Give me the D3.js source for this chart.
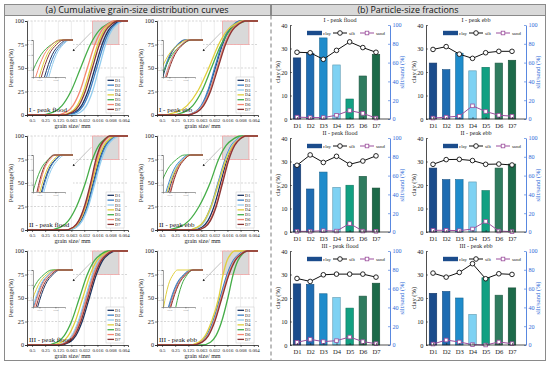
<!doctype html>
<html lang="en">
<head>
<meta charset="utf-8">
<script src="https://d3js.org/d3.v7.min.js"></script>
<style>
    html, body { margin: 0; padding: 0; background: #fff; }
    svg { display: block; }
</style>
</head>
<body>
<svg id="svg" width="550" height="366"></svg>
<script>
    var stations = ["D1", "D2", "D3", "D4", "D5", "D6", "D7"];
    var curveColors = ["#1c3461", "#3d7fc4", "#93cdee", "#e0cf3c", "#45ad48", "#f5856f", "#8a3636"];
    var barColors = ["#1b4c8c", "#1e6cb2", "#1f8ccb", "#7fd2f3", "#12a082", "#2f7c5f", "#1c6a49"];
    var percentLevels = [0, 3, 10, 25, 50, 75, 90, 97, 100];
    var sizeTicks = [0.5, 0.25, 0.125, 0.063, 0.032, 0.016, 0.008, 0.004];
    var sizeTickLabels = ["0.5", "0.25", "0.125", "0.063", "0.032", "0.016", "0.008", "0.004"];
    var sampleNames = ["I - peak flood", "I - peak ebb", "II - peak flood", "II - peak ebb", "III - peak flood", "III - peak ebb"];

    // grain size (phi) reached at each cumulative percentage level, one row per station D1..D7
    var phiIflood = [
        [3.54, 4.28, 4.76, 5.24, 5.78, 6.32, 6.80, 7.28, 7.70],
        [3.67, 4.41, 4.89, 5.37, 5.91, 6.45, 6.93, 7.41, 7.83],
        [3.99, 4.68, 5.13, 5.59, 6.09, 6.59, 7.05, 7.50, 7.89],
        [3.21, 3.95, 4.43, 4.91, 5.45, 5.99, 6.47, 6.95, 7.37],
        [1.61, 2.62, 3.28, 3.95, 4.69, 5.43, 6.10, 6.76, 7.33],
        [2.82, 3.60, 4.11, 4.63, 5.20, 5.77, 6.29, 6.80, 7.24],
        [3.34, 4.08, 4.56, 5.04, 5.58, 6.12, 6.60, 7.08, 7.50]
    ];
    var phiIebb = [
        [2.81, 3.55, 4.03, 4.51, 5.05, 5.59, 6.07, 6.55, 6.97],
        [2.76, 3.50, 3.98, 4.46, 5.00, 5.54, 6.02, 6.50, 6.92],
        [2.77, 3.55, 4.06, 4.58, 5.15, 5.72, 6.24, 6.75, 7.19],
        [0.90, 2.10, 2.90, 3.70, 4.55, 5.30, 5.95, 6.60, 7.10],
        [1.67, 2.68, 3.34, 4.01, 4.75, 5.49, 6.16, 6.82, 7.39],
        [2.80, 3.58, 4.09, 4.61, 5.18, 5.75, 6.27, 6.78, 7.22],
        [2.87, 3.65, 4.16, 4.68, 5.25, 5.82, 6.34, 6.85, 7.29]
    ];
    var phiIIflood = [
        [3.63, 4.30, 4.73, 5.17, 5.65, 6.13, 6.57, 7.00, 7.38],
        [3.68, 4.35, 4.78, 5.22, 5.70, 6.18, 6.62, 7.05, 7.43],
        [3.68, 4.37, 4.82, 5.28, 5.78, 6.28, 6.74, 7.19, 7.58],
        [3.53, 4.20, 4.63, 5.07, 5.55, 6.03, 6.47, 6.90, 7.28],
        [2.25, 3.17, 3.77, 4.38, 5.05, 5.59, 6.07, 6.55, 6.97],
        [3.48, 4.15, 4.58, 5.02, 5.50, 5.92, 6.29, 6.67, 6.99],
        [3.49, 4.13, 4.55, 4.98, 5.45, 5.85, 6.22, 6.58, 6.89]
    ];
    var phiIIebb = [
        [3.35, 4.04, 4.49, 4.95, 5.45, 5.95, 6.41, 6.86, 7.25],
        [3.01, 3.75, 4.23, 4.71, 5.25, 5.79, 6.27, 6.75, 7.17],
        [3.06, 3.80, 4.28, 4.76, 5.30, 5.84, 6.32, 6.80, 7.22],
        [2.92, 3.70, 4.21, 4.73, 5.30, 5.87, 6.39, 6.90, 7.34],
        [1.15, 2.30, 3.05, 3.81, 4.65, 5.29, 5.87, 6.44, 6.93],
        [3.53, 4.20, 4.63, 5.07, 5.55, 6.03, 6.47, 6.90, 7.28],
        [3.58, 4.25, 4.68, 5.12, 5.60, 6.08, 6.52, 6.95, 7.33]
    ];
    var phiIIIflood = [
        [3.11, 3.85, 4.33, 4.81, 5.35, 5.89, 6.37, 6.85, 7.27],
        [2.86, 3.60, 4.08, 4.56, 5.10, 5.64, 6.12, 6.60, 7.02],
        [2.81, 3.55, 4.03, 4.51, 5.05, 5.59, 6.07, 6.55, 6.97],
        [2.47, 3.25, 3.76, 4.28, 4.85, 5.42, 5.94, 6.45, 6.89],
        [2.08, 2.91, 3.45, 4.00, 4.60, 5.20, 5.75, 6.29, 6.76],
        [2.91, 3.65, 4.13, 4.61, 5.15, 5.69, 6.17, 6.65, 7.07],
        [3.01, 3.75, 4.23, 4.71, 5.25, 5.79, 6.27, 6.75, 7.17]
    ];
    var phiIIIebb = [
        [3.21, 3.95, 4.43, 4.91, 5.45, 5.99, 6.47, 6.95, 7.37],
        [3.16, 3.90, 4.38, 4.86, 5.40, 5.94, 6.42, 6.90, 7.32],
        [3.24, 3.98, 4.46, 4.94, 5.48, 6.02, 6.50, 6.98, 7.40],
        [3.06, 3.80, 4.28, 4.76, 5.30, 5.64, 5.94, 6.24, 6.50],
        [4.04, 4.68, 5.10, 5.53, 6.00, 6.40, 6.77, 7.13, 7.44],
        [3.26, 4.00, 4.48, 4.96, 5.50, 6.04, 6.52, 7.00, 7.42],
        [3.31, 4.05, 4.53, 5.01, 5.55, 6.09, 6.57, 7.05, 7.47]
    ];

    // particle-size fractions (%)
    var clayIflood = [26, 28, 34.5, 23, 8.5, 18.3, 27.5];
    var siltIflood = [71, 70.5, 63.5, 73, 82, 76, 71];
    var sandIflood = [2, 1.5, 1.5, 4, 9, 6, 1];
    var clayIebb = [23.8, 21, 28, 20.5, 22, 23.8, 25];
    var siltIebb = [74, 77, 69, 64.5, 70.5, 72, 72];
    var sandIebb = [1, 2, 3, 14, 8, 4, 3];
    var clayIIflood = [28.7, 18.3, 25.5, 19, 19.9, 23.7, 18.7];
    var siltIIflood = [71, 82, 74, 80.5, 72, 75.5, 81];
    var sandIIflood = [0.7, 0.7, 1.4, 1, 9, 1, 0.7];
    var clayIIebb = [27.2, 22.3, 22.3, 21.3, 17.6, 27.2, 28.9];
    var siltIIebb = [72, 77, 77.3, 76, 72, 72.3, 71.3];
    var sandIIebb = [1.8, 1.8, 1.4, 3.2, 11.3, 1, 0.4];
    var clayIIIflood = [26, 25.8, 21.8, 20.2, 15.7, 20.8, 26.3];
    var siltIIIflood = [70.8, 67.6, 74.7, 75.4, 75.4, 75.4, 72.2];
    var sandIIIflood = [2.8, 6, 3.6, 4.6, 8.5, 3.6, 1.4];
    var clayIIIebb = [22, 22.8, 20, 13, 28.6, 21.2, 24.3];
    var siltIIIebb = [76.5, 72.2, 77.2, 86.5, 70.5, 75.8, 75.1];
    var sandIIIebb = [1, 5.3, 3.2, 0.4, 0, 3.2, 1.4];

    var serif = '"Liberation Serif", "DejaVu Serif", serif';
    var sans = '"Open Sans", "Liberation Sans", sans-serif';
    var rightBlue = "#2f6ad8";

    var svg = d3.select("#svg");
    var defs = svg.append("defs");
    defs.append("marker").attr("id", "arrowhead")
        .attr("viewBox", "0 0 10 10").attr("refX", 9).attr("refY", 5)
        .attr("markerWidth", 4).attr("markerHeight", 4).attr("orient", "auto")
        .append("path").attr("d", "M0,0 L10,5 L0,10 z").attr("fill", "#222");

    // outer frame and panel titles
    svg.append("rect").attr("x", 4.5).attr("y", 4.5).attr("width", 541).attr("height", 356)
        .attr("fill", "#fff").attr("stroke", "#8a8a8a");
    svg.append("rect").attr("x", 4.5).attr("y", 4.5).attr("width", 266).attr("height", 11)
        .attr("fill", "#d9d9d9").attr("stroke", "#8a8a8a");
    svg.append("rect").attr("x", 271.5).attr("y", 4.5).attr("width", 274).attr("height", 11)
        .attr("fill", "#d9d9d9").attr("stroke", "#8a8a8a");
    svg.append("line").attr("x1", 271).attr("x2", 271).attr("y1", 15.5).attr("y2", 360)
        .attr("stroke", "#7a7a7a").attr("stroke-dasharray", "4,3");
    svg.append("text").attr("x", 137).attr("y", 13.2).attr("text-anchor", "middle")
        .attr("font-family", sans).attr("font-size", 9.2).attr("textLength", 183)
        .attr("lengthAdjust", "spacingAndGlyphs").attr("fill", "#111")
        .text("(a) Cumulative grain-size distribution curves");
    svg.append("text").attr("x", 408).attr("y", 13.2).attr("text-anchor", "middle")
        .attr("font-family", sans).attr("font-size", 9.2).attr("textLength", 101)
        .attr("lengthAdjust", "spacingAndGlyphs").attr("fill", "#111")
        .text("(b) Particle-size fractions");

    var clipCount = 0;

    var drawGrain = function (left, top, phiRows, name) {
        var w = 101, h = 94;
        var toMm = function (phi) { return Math.pow(2, -phi); };
        var x = d3.scaleLog().base(2).domain([0.65, 0.0032]).range([left, left + w]);
        var y = d3.scaleLinear().domain([0, 100]).range([top + h, top]);
        var g = svg.append("g");

        g.selectAll(".vgrid").data(sizeTicks).join("line")
            .attr("x1", function (d) { return x(d); }).attr("x2", function (d) { return x(d); })
            .attr("y1", top).attr("y2", top + h)
            .attr("stroke", "#e8e8e8").attr("stroke-width", 0.8);
        g.selectAll(".hgrid").data([25, 50, 75, 100]).join("line")
            .attr("x1", left).attr("x2", left + w)
            .attr("y1", function (d) { return y(d); }).attr("y2", function (d) { return y(d); })
            .attr("stroke", "#c4c4c4").attr("stroke-width", 0.7).attr("stroke-dasharray", "2,1.5");

        // zoomed window
        var boxPhi = [5.6, 7.6], boxPct = [75, 100];
        g.append("rect")
            .attr("x", x(toMm(boxPhi[0]))).attr("y", y(boxPct[1]))
            .attr("width", x(toMm(boxPhi[1])) - x(toMm(boxPhi[0])))
            .attr("height", y(boxPct[0]) - y(boxPct[1]))
            .attr("fill", "#d9d9d9").attr("stroke", "#f2a3a3").attr("stroke-width", 0.8);

        var ends = [-Math.log2(0.65), -Math.log2(0.0032)];
        var pointsOf = function (row) {
            return [[ends[0], 0]].concat(row.map(function (p, j) { return [p, percentLevels[j]]; }), [[ends[1], 100]]);
        };
        var line = d3.line()
            .x(function (d) { return x(toMm(d[0])); })
            .y(function (d) { return y(d[1]); })
            .curve(d3.curveMonotoneX);
        phiRows.forEach(function (row, i) {
            g.append("path").attr("d", line(pointsOf(row)))
                .attr("fill", "none").attr("stroke", curveColors[i]).attr("stroke-width", 1.3);
        });

        // inset
        var ix = left + 6, iy = top + 19, iw = 32, ih = 37;
        var xi = d3.scaleLog().base(2).domain([toMm(boxPhi[0]), toMm(boxPhi[1])]).range([ix, ix + iw]);
        var yi = d3.scaleLinear().domain(boxPct).range([iy + ih, iy]);
        clipCount += 1;
        var cid = "inset" + clipCount;
        defs.append("clipPath").attr("id", cid).append("rect")
            .attr("x", ix).attr("y", iy - 1).attr("width", iw + 8).attr("height", ih + 1);
        g.append("rect").attr("x", ix).attr("y", iy).attr("width", iw + 8).attr("height", ih).attr("fill", "#fff");
        var lineI = d3.line()
            .x(function (d) { return xi(toMm(d[0])); })
            .y(function (d) { return yi(d[1]); })
            .curve(d3.curveMonotoneX);
        var gi = g.append("g").attr("clip-path", "url(#" + cid + ")");
        phiRows.forEach(function (row, i) {
            gi.append("path").attr("d", lineI(pointsOf(row)))
                .attr("fill", "none").attr("stroke", curveColors[i]).attr("stroke-width", 1);
        });
        var axI = g.append("g").attr("transform", "translate(" + ix + ",0)")
            .call(d3.axisLeft(yi).tickValues([80, 90, 100]).tickSize(1.5).tickPadding(1));
        var axIb = g.append("g").attr("transform", "translate(0," + (iy + ih) + ")")
            .call(d3.axisBottom(xi).tickValues([toMm(6), toMm(7)]).tickFormat(function (d) { return d3.format(".3f")(d); }).tickSize(1.5).tickPadding(1));
        [axI, axIb].forEach(function (a) {
            a.selectAll("path").attr("stroke", "#444").attr("stroke-width", 0.5);
            a.selectAll("line").attr("stroke", "#444").attr("stroke-width", 0.5);
            a.selectAll("text").attr("font-size", 2.2).attr("font-family", serif).attr("fill", "#777");
        });

        // arrow from window to inset
        g.append("line")
            .attr("x1", x(toMm(5.5))).attr("y1", y(88))
            .attr("x2", x(toMm(4.1))).attr("y2", y(68))
            .attr("stroke", "#999").attr("stroke-width", 0.6).attr("marker-end", "url(#arrowhead)");

        // axes
        var ay = g.append("g").attr("transform", "translate(" + left + ",0)")
            .call(d3.axisLeft(y).tickValues([0, 25, 50, 75, 100]).tickSize(2).tickPadding(1));
        var ax = g.append("g").attr("transform", "translate(0," + (top + h) + ")")
            .call(d3.axisBottom(x).tickValues(sizeTicks)
                .tickFormat(function (d, i) { return sizeTickLabels[i]; }).tickSize(2).tickPadding(1.2));
        [ay, ax].forEach(function (a) {
            a.select(".domain").attr("stroke", "#222").attr("stroke-width", 0.8);
            a.selectAll("line").attr("stroke", "#222").attr("stroke-width", 0.6);
            a.selectAll("text").attr("font-family", serif).attr("fill", "#222");
        });
        ay.selectAll("text").attr("font-size", 6.2);
        ax.selectAll("text").attr("font-size", 4.9);

        g.append("text").attr("transform", "translate(" + (left - 14) + "," + (top + h / 2) + ") rotate(-90)")
            .attr("text-anchor", "middle").attr("font-family", serif).attr("font-size", 6.5)
            .attr("fill", "#222").text("Percentage(%)");
        g.append("text").attr("x", left + w / 2 - 5).attr("y", top + h + 13)
            .attr("text-anchor", "middle").attr("font-family", serif).attr("font-size", 6.1)
            .attr("fill", "#222").text("grain size/ mm");
        g.append("text").attr("x", left + 2).attr("y", top + h - 3)
            .attr("font-family", serif).attr("font-size", 7).attr("fill", "#111").text(name);

        // legend
        var lx = left + 79, ly = top + 56;
        g.append("rect").attr("x", lx).attr("y", ly).attr("width", 18).attr("height", 36)
            .attr("fill", "#fff").attr("stroke", "#c8c8c8").attr("stroke-width", 0.5);
        stations.forEach(function (s, i) {
            var yy = ly + 3.3 + i * 4.85;
            g.append("line").attr("x1", lx + 1.5).attr("x2", lx + 8).attr("y1", yy).attr("y2", yy)
                .attr("stroke", curveColors[i]).attr("stroke-width", 1.3);
            g.append("text").attr("x", lx + 9).attr("y", yy + 1.5)
                .attr("font-family", serif).attr("font-size", 4.4).attr("fill", "#222").text(s);
        });
    };

    var drawBars = function (left, top, clay, silt, sand, name) {
        var w = 100, h = 94;
        var x = d3.scalePoint().domain(stations).range([left + 7, left + 86]);
        var yc = d3.scaleLinear().domain([0, 40]).range([top + h, top]);
        var yr = d3.scaleLinear().domain([0, 100]).range([top + h, top]);
        var g = svg.append("g");
        var bw = 7.5;

        g.selectAll(".bar").data(clay).join("rect")
            .attr("x", function (d, i) { return x(stations[i]) - bw / 2; })
            .attr("y", function (d) { return yc(d); })
            .attr("width", bw)
            .attr("height", function (d) { return yc(0) - yc(d); })
            .attr("fill", function (d, i) { return barColors[i]; })
            .attr("stroke", function (d, i) { return d3.color(barColors[i]).darker(0.9); })
            .attr("stroke-width", 0.6);

        var line = d3.line()
            .x(function (d, i) { return x(stations[i]); })
            .y(function (d) { return yr(d); });
        g.append("path").attr("d", line(sand)).attr("fill", "none")
            .attr("stroke", "#9b4e9d").attr("stroke-width", 1);
        g.selectAll(".sq").data(sand).join("rect")
            .attr("x", function (d, i) { return x(stations[i]) - 1.8; })
            .attr("y", function (d) { return yr(d) - 1.8; })
            .attr("width", 3.6).attr("height", 3.6)
            .attr("fill", "#fff").attr("stroke", "#9b4e9d").attr("stroke-width", 0.8);
        g.append("path").attr("d", line(silt)).attr("fill", "none")
            .attr("stroke", "#111").attr("stroke-width", 1);
        g.selectAll(".ci").data(silt).join("circle")
            .attr("cx", function (d, i) { return x(stations[i]); })
            .attr("cy", function (d) { return yr(d); })
            .attr("r", 2.3)
            .attr("fill", "#fff").attr("stroke", "#111").attr("stroke-width", 0.9);

        // inward ticks, as in the source figure
        var axL = g.append("g").attr("transform", "translate(" + left + ",0)")
            .call(d3.axisLeft(yc).tickValues([0, 10, 20, 30, 40]).tickSizeInner(-2).tickSizeOuter(0).tickPadding(2.5));
        var axR = g.append("g").attr("transform", "translate(" + (left + w) + ",0)")
            .call(d3.axisRight(yr).tickValues([0, 20, 40, 60, 80, 100]).tickSizeInner(-2).tickSizeOuter(0).tickPadding(2.5));
        var axB = g.append("g").attr("transform", "translate(0," + (top + h) + ")")
            .call(d3.axisBottom(x).tickSizeInner(-2).tickSizeOuter(0).tickPadding(4));
        axB.select(".domain").attr("d", "M" + left + ",0H" + (left + w));
        [axL, axB].forEach(function (a) {
            a.select(".domain").attr("stroke", "#222").attr("stroke-width", 0.8);
            a.selectAll("line").attr("stroke", "#222").attr("stroke-width", 0.6);
            a.selectAll("text").attr("font-family", serif).attr("fill", "#222").attr("font-size", 6.3);
        });
        axR.select(".domain").attr("stroke", rightBlue).attr("stroke-width", 0.8);
        axR.selectAll("line").attr("stroke", rightBlue).attr("stroke-width", 0.6);
        axR.selectAll("text").attr("font-family", serif).attr("fill", rightBlue).attr("font-size", 6.1);
        axB.selectAll("text").attr("font-size", 6.6);

        g.append("text").attr("transform", "translate(" + (left - 10) + "," + (top + h / 2) + ") rotate(-90)")
            .attr("text-anchor", "middle").attr("font-family", serif).attr("font-size", 6.5)
            .attr("fill", "#222").text("clay (%)");
        g.append("text").attr("transform", "translate(" + (left + w + 14) + "," + (top + h / 2) + ") rotate(-90)")
            .attr("text-anchor", "middle").attr("font-family", serif).attr("font-size", 6.5)
            .attr("fill", rightBlue).text("silt/sand (%)");
        g.append("text").attr("x", left + w / 2).attr("y", top - 3.5)
            .attr("text-anchor", "middle").attr("font-family", serif).attr("font-size", 6.1)
            .attr("fill", "#222").text(name);

        // legend
        var ly = top + 8;
        g.append("rect").attr("x", left + 17).attr("y", ly - 2.2).attr("width", 15).attr("height", 4.4)
            .attr("fill", barColors[0]);
        g.append("text").attr("x", left + 33).attr("y", ly + 1.6).attr("font-family", serif)
            .attr("font-size", 4.8).attr("fill", "#222").text("clay");
        g.append("line").attr("x1", left + 43).attr("x2", left + 57).attr("y1", ly).attr("y2", ly)
            .attr("stroke", "#111").attr("stroke-width", 1);
        g.append("circle").attr("cx", left + 50).attr("cy", ly).attr("r", 2.3)
            .attr("fill", "#fff").attr("stroke", "#111").attr("stroke-width", 0.9);
        g.append("text").attr("x", left + 59).attr("y", ly + 1.6).attr("font-family", serif)
            .attr("font-size", 4.8).attr("fill", "#222").text("silt");
        g.append("line").attr("x1", left + 70).attr("x2", left + 84).attr("y1", ly).attr("y2", ly)
            .attr("stroke", "#9b4e9d").attr("stroke-width", 1);
        g.append("rect").attr("x", left + 75.2).attr("y", ly - 1.8).attr("width", 3.6).attr("height", 3.6)
            .attr("fill", "#fff").attr("stroke", "#9b4e9d").attr("stroke-width", 0.8);
        g.append("text").attr("x", left + 86).attr("y", ly + 1.6).attr("font-family", serif)
            .attr("font-size", 4.8).attr("fill", "#222").text("sand");
    };

    var grainCols = [27, 157];
    var grainRows = [21, 136, 251];
    var phiSets = [phiIflood, phiIebb, phiIIflood, phiIIebb, phiIIIflood, phiIIIebb];
    var barCols = [290, 426];
    var barRows = [25, 138, 251];
    var claySets = [clayIflood, clayIebb, clayIIflood, clayIIebb, clayIIIflood, clayIIIebb];
    var siltSets = [siltIflood, siltIebb, siltIIflood, siltIIebb, siltIIIflood, siltIIIebb];
    var sandSets = [sandIflood, sandIebb, sandIIflood, sandIIebb, sandIIIflood, sandIIIebb];

    sampleNames.forEach(function (name, k) {
        var r = Math.floor(k / 2), c = k % 2;
        drawGrain(grainCols[c], grainRows[r], phiSets[k], name);
        drawBars(barCols[c], barRows[r], claySets[k], siltSets[k], sandSets[k], name);
    });
</script>
</body>
</html>
